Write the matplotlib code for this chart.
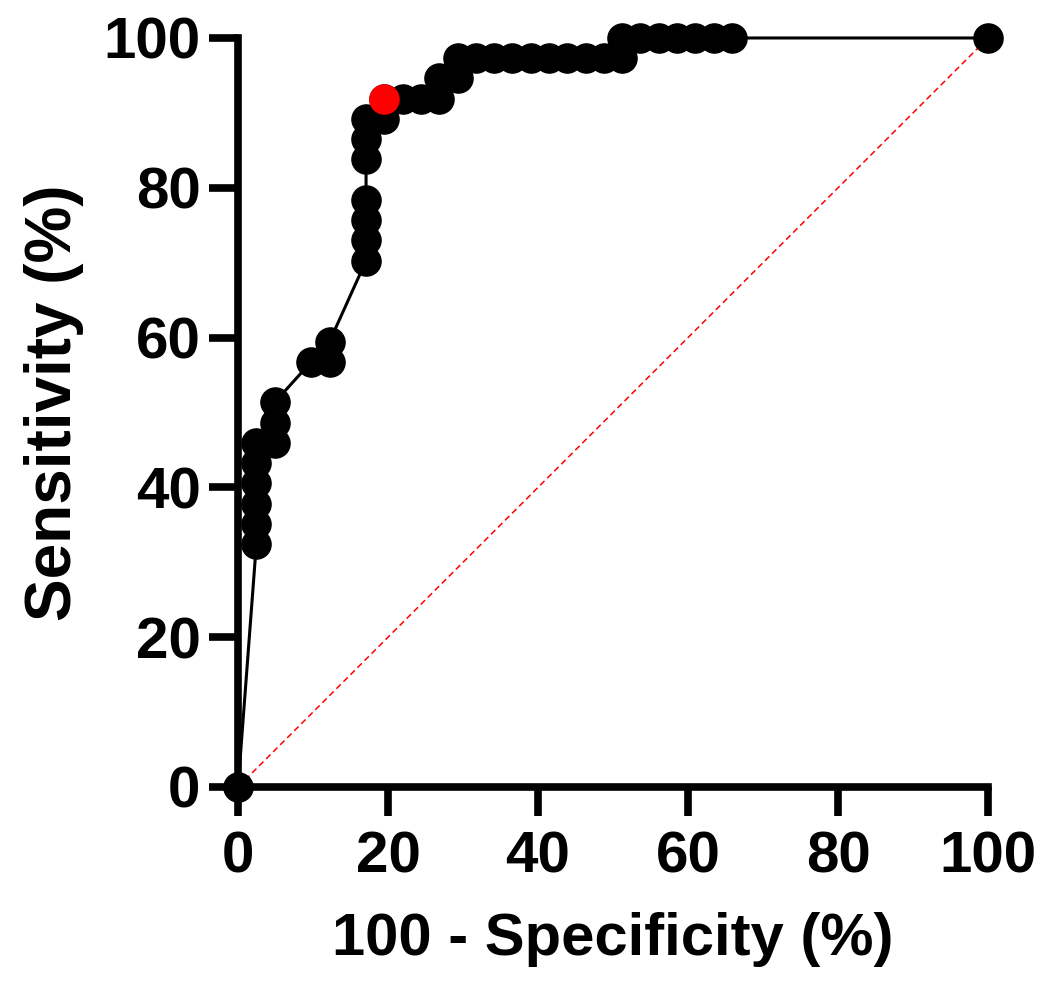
import numpy as np
import matplotlib.pyplot as plt

plt.rcParams['font.family'] = ['Liberation Sans', 'DejaVu Sans']
plt.rcParams['font.weight'] = 'bold'

# ROC points: 100 - specificity (%) and sensitivity (%)
fpr = [0, 2.44, 2.44, 2.44, 2.44, 2.44, 2.44, 4.88, 4.88, 4.88, 9.76, 12.20, 12.20,
       17.07, 17.07, 17.07, 17.07, 17.07, 17.07, 17.07, 19.51, 19.51, 21.95, 24.39,
       26.83, 26.83, 29.27, 29.27, 31.71, 34.15, 36.59, 39.02, 41.46, 43.90, 46.34,
       48.78, 51.22, 51.22, 53.66, 56.10, 58.54, 60.98, 63.41, 65.85, 100]
tpr = [0, 32.43, 35.14, 37.84, 40.54, 43.24, 45.95, 45.95, 48.65, 51.35, 56.76, 56.76, 59.46,
       70.27, 72.97, 75.68, 78.38, 83.78, 86.49, 89.19, 89.19, 91.89, 91.89, 91.89,
       91.89, 94.59, 94.59, 97.30, 97.30, 97.30, 97.30, 97.30, 97.30, 97.30, 97.30,
       97.30, 97.30, 100, 100, 100, 100, 100, 100, 100, 100]

# highlighted cut-off point
best_x = 19.51
best_y = 91.89

fig = plt.figure(figsize=(10.5, 10.02), dpi=100)
ax = fig.add_axes([0.2267, 0.2146, 0.7143, 0.7475])

ax.plot([0, 100], [0, 100], color='red', lw=1.1, ls=(0, (4, 2.5)), zorder=1, clip_on=False)
ax.plot(fpr, tpr, color='black', lw=2.2, marker='o', ms=21, mfc='black', mec='black',
        zorder=2, clip_on=False)
ax.plot([best_x], [best_y], marker='o', ms=21, color='red', ls='none', zorder=3, clip_on=False)

ax.set_xlim(0, 100)
ax.set_ylim(0, 100)
ax.set_xticks([0, 20, 40, 60, 80, 100])
ax.set_yticks([0, 20, 40, 60, 80, 100])

for side in ['top', 'right']:
    ax.spines[side].set_visible(False)
for side in ['left', 'bottom']:
    ax.spines[side].set_linewidth(5.5)
    ax.spines[side].set_capstyle('projecting')

ax.tick_params(axis='both', which='major', length=21, width=5.5, labelsize=42)
ax.tick_params(axis='x', pad=10)
ax.tick_params(axis='y', pad=6)

ax.set_xlabel('100 - Specificity (%)', fontsize=43, fontweight='bold', labelpad=20)
ax.set_ylabel('Sensitivity (%)', fontsize=46, fontweight='bold')
ax.yaxis.set_label_coords(-0.205, 0.513)

fig.savefig('out.png', dpi=100)
